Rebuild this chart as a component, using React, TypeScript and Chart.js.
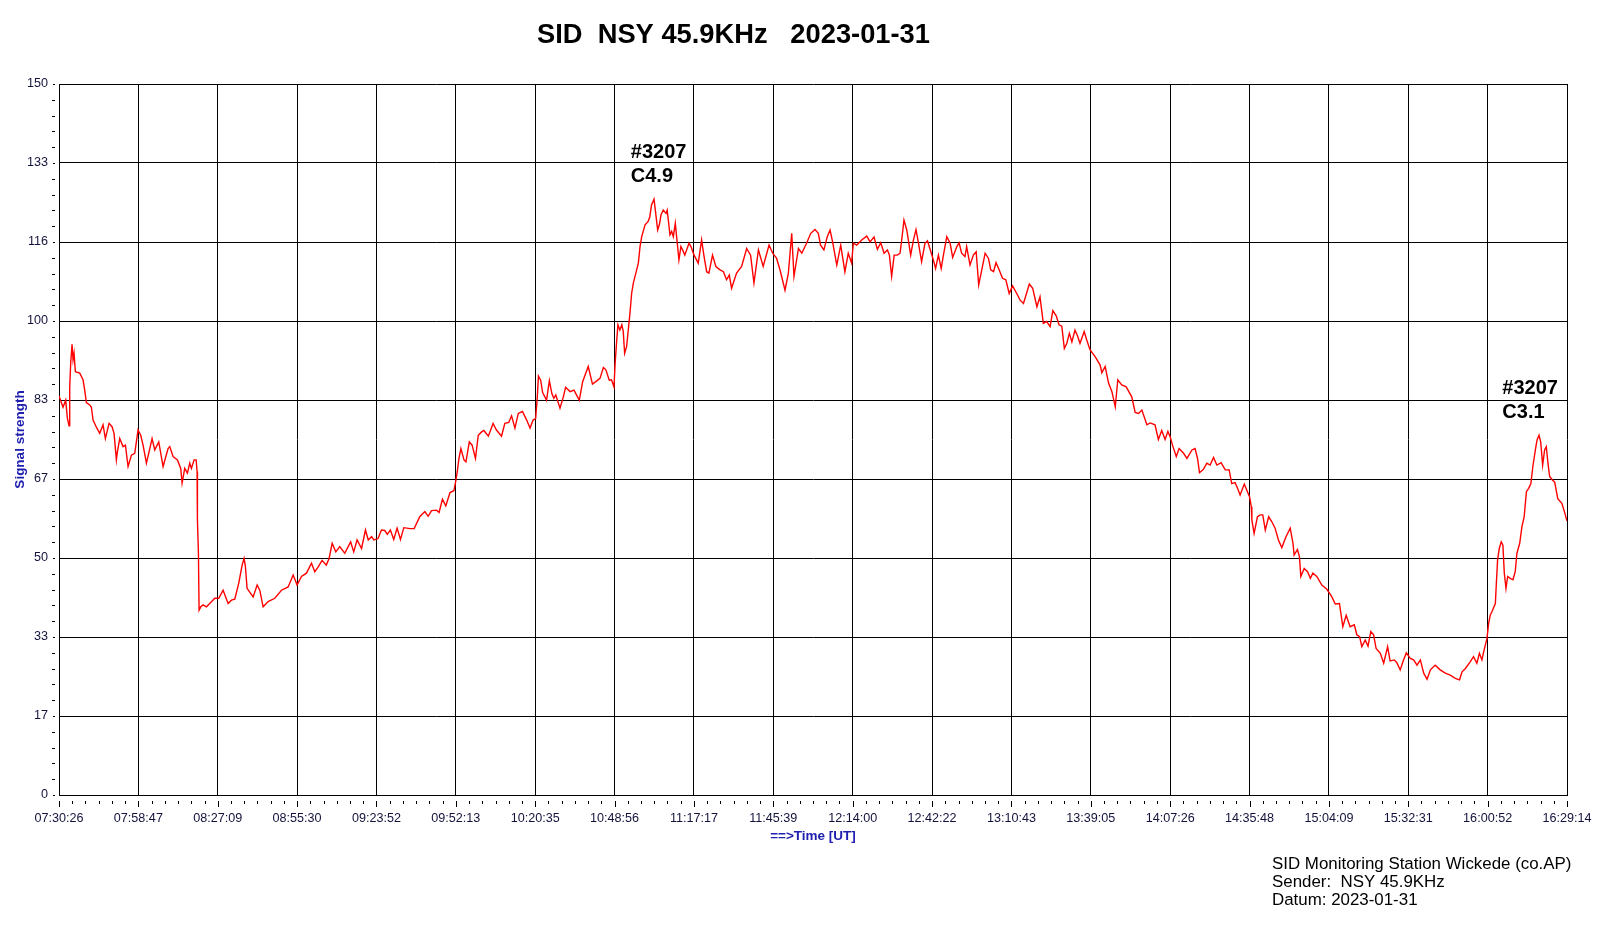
import React, { useEffect, useRef } from "react";
import { Chart, registerables } from "chart.js";

Chart.register(...registerables);

// ---- data (minutes after 07:30:26 UT, signal strength) ----
const TIMES: number[] = [
  0, 1.44, 2.39, 2.99, 3.59, 3.82, 4.18, 4.66, 5.02, 5.37, 5.85, 7.4, 8.59, 9.19, 9.78, 10.97, 11.57, 12.17, 13.36, 14.55,
  15.74, 16.57, 17.88, 18.96, 19.67, 20.5, 20.86, 21.7, 22.89, 23.72, 24.68, 25.87, 27.06, 28.25, 29.2, 30.04, 31.23, 32.18, 33.25, 34.21,
  35.64, 37.19, 38.97, 39.57, 40.76, 42.31, 43.5, 43.98, 44.93, 45.88, 46.72, 47.31, 48.27, 49.0, 49.34, 49.46, 49.82, 50.05, 50.65, 51.48,
  52.68, 53.87, 55.66, 57.08, 58.63, 60.42, 61.61, 62.8, 64.23, 65.43, 66.14, 66.6, 67.2, 69.36, 70.79, 71.74, 72.93, 74.72, 77.1, 79.48,
  81.87, 83.66, 85.08, 86.63, 88.42, 90.21, 91.4,
  92.5, 94.0, 95.5, 96.5, 97.6, 98.9, 100.3, 102.1, 104.2, 105.3, 106.5, 108.1, 109.5, 110.5, 111.7, 112.5, 114.0, 115.2, 116.4, 117.3,
  118.4, 119.6, 120.8, 122.0, 123.2, 125.4, 126.9, 128.9, 130.7, 131.9, 133.1, 134.9, 135.8, 137.0, 138.2, 139.7, 141.1, 141.8, 142.3, 142.9,
  143.6, 144.7, 145.4, 146.6, 147.6, 148.8, 149.8, 151.0, 151.8, 153.4, 155.1, 156.3, 158.1, 159.3, 160.7, 161.7, 162.9, 164.1, 165.6, 167.1,
  168.3, 169.4, 170.3, 170.9, 171.3, 172.1, 172.8, 174.2, 175.2, 176.1, 176.8, 177.5, 179.0, 180.2, 181.0, 182.6, 184.0, 185.9, 187.1,
  189.1, 190.6, 191.8, 193.3, 194.5, 195.4, 196.6, 197.4, 198.3, 198.7, 199.2, 199.7, 200.4, 201.1, 201.6, 202.1, 202.8, 203.4, 204.0, 204.6,
  205.2, 206.1, 207.0, 207.6, 208.2, 209.4, 210.5, 211.1, 211.7, 212.6, 213.2, 213.9, 214.5, 215.1, 215.9, 216.9, 217.3, 218.3, 218.9, 219.5,
  220.2, 220.9, 221.5, 222.2, 222.8, 223.6, 225.1, 225.8, 226.9, 228.4, 229.6, 230.4, 231.4, 232.2, 233.5, 234.7, 236.2, 237.4, 238.5, 239.5,
  240.3, 242.1, 243.9, 245.7, 247.1, 248.3, 249.9, 251.6, 253.7, 255.0, 256.4, 257.6, 259.4, 260.6, 261.8, 262.6, 264.2, 265.4, 267.1, 268.6,
  270.1, 271.3, 272.1, 273.3, 274.5, 275.5, 276.4, 277.9, 279.3, 280.8, 282.0, 283.2, 283.8, 285.0, 286.8, 288.6, 289.8, 291.2, 292.4, 293.6,
  294.8, 296.0, 296.7, 297.5, 298.4, 299.5, 300.5, 301.1, 301.9, 302.9,
  304.3, 305.3, 306.2, 307.1, 308.2, 309.4, 310.3, 311.5, 312.4, 313.2, 314.2, 315.2, 316.0, 317.2, 318.4, 319.3, 320.8, 321.6, 322.5, 323.7,
  324.3, 325.5, 326.7, 327.7, 328.6, 329.7, 330.9, 332.1, 332.9, 333.9, 334.8, 335.9, 337.1, 338.3, 339.5, 340.7, 342.2, 343.4, 344.6, 346.7,
  347.9, 349.4, 350.5, 351.7, 352.9, 354.1, 355.1, 356.3, 357.3, 358.3, 359.2, 360.1, 361.0, 361.9, 363.0, 363.9, 364.8, 366.3, 367.2, 368.4,
  370.2, 372.0, 372.6, 373.8, 375.0, 376.2, 377.4, 378.3, 379.7, 381.3, 383.3, 384.5, 385.7, 386.9, 388.7, 389.9, 391.6, 392.8, 394.0, 395.2,
  396.2, 397.0, 398.0, 399.2, 400.2, 401.8, 403.0, 404.8, 405.9,
  406.8, 407.5, 408.9, 410.1, 411.3, 412.5, 413.7, 415.2, 416.7, 418.1, 419.0, 420.2, 421.1, 422.0, 423.5, 424.4, 425.4, 426.0, 426.2, 427.0,
  428.2, 429.2, 430.1, 431.0, 432.2, 433.3, 434.5, 435.7, 436.9, 438.4, 439.9, 440.9, 441.3, 442.5, 443.2, 443.7, 444.9, 446.1, 447.1, 448.0,
  449.4, 451.2, 453.0, 454.8, 456.0, 457.5, 458.7, 459.9, 461.3, 462.8, 463.7, 464.7, 465.5, 466.7, 467.7, 468.7, 469.7, 470.6, 472.1, 473.3,
  474.7, 475.6, 477.1, 478.0, 479.2,
  480.4, 481.4, 482.8, 484.0, 485.2, 486.4, 487.6, 488.8, 490.0, 491.7, 493.5, 495.3, 497.1, 498.9, 500.4, 501.3, 502.5, 504.2, 505.4, 506.6,
  507.5, 508.4, 509.2, 510.2, 510.8, 511.4, 512.0, 513.2, 513.5, 514.0, 514.6, 515.3, 515.9, 516.4, 517.0, 517.6, 518.5, 519.5, 520.3, 520.9,
  521.9, 522.7, 523.5, 524.3, 525.1, 525.9, 526.6, 527.5, 528.1, 528.8, 529.4, 530.1, 530.8, 531.4, 532.0, 532.6, 533.5, 534.4, 535.5, 537.0,
  538.1, 538.8,
];

const SIGNAL: number[] = [
  84.2, 81.8, 83.3, 79.5, 77.9, 85.8, 91.1, 95.1, 91.8, 93.2, 89.3, 89.0, 87.6, 85.4, 82.8, 82.3, 81.8, 79.1, 77.6, 76.3,
  78.1, 75.2, 78.4, 77.7, 76.3, 70.7, 72.4, 75.2, 73.5, 73.8, 69.3, 71.7, 72.1, 77.0, 75.9, 73.8, 70.0, 72.4, 75.2, 72.8,
  74.5, 69.3, 73.1, 73.5, 71.4, 70.7, 68.9, 65.8, 68.9, 67.9, 70.0, 68.9, 70.7, 70.7, 68.2, 58.0, 51.0, 39.0, 39.7, 40.1,
  39.7, 40.4, 41.5, 41.5, 43.2, 40.4, 41.1, 41.3, 44.7, 48.5, 49.9, 48.2, 43.6, 41.8, 44.3, 43.2, 39.7, 40.8, 41.5, 43.2,
  43.9, 46.4, 44.3, 46.1, 46.8, 48.9, 47.1,
  48.0, 49.5, 48.5, 49.9, 53.1, 51.3, 52.4, 51.0, 53.4, 51.3, 53.8, 52.0, 55.9, 53.8, 54.5, 53.8, 54.1, 55.9, 55.8, 55.0,
  55.9, 53.9, 56.3, 53.9, 56.4, 56.2, 56.2, 58.7, 59.8, 58.8, 60.0, 60.1, 59.6, 62.4, 61.0, 63.8, 64.2, 66.4, 68.2, 71.0,
  73.1, 70.7, 70.3, 74.5, 73.8, 71.0, 75.9, 76.6, 76.9, 75.7, 78.4, 77.0, 75.7, 78.4, 78.6, 80.0, 77.4, 80.5, 80.9, 79.1,
  77.4, 79.1, 79.4, 84.0, 88.4, 87.5, 84.9, 83.3, 87.4, 84.7, 83.7, 84.4, 81.6, 84.0, 86.0, 85.1, 85.4, 83.3, 87.2,
  90.4, 86.7, 87.2, 87.9, 90.2, 89.7, 87.5, 87.6, 86.1, 91.1, 95.3, 99.2, 98.1, 99.2, 97.8, 93.2, 94.6, 98.1, 101.6, 105.8,
  108.0, 110.1, 112.2, 115.7, 117.8, 120.3, 121.0, 122.0, 124.5, 125.7, 122.7, 119.2, 120.3, 122.4, 123.4, 122.7, 123.4, 118.2, 118.9, 117.8,
  120.6, 116.4, 112.9, 115.7, 115.0, 113.9, 116.4, 115.7, 113.9, 112.2, 117.1, 113.9, 110.4, 110.1, 113.9, 111.5, 110.8, 110.4, 108.7, 109.7,
  106.9, 110.1, 111.5, 115.3, 113.9, 108.0, 115.0, 111.5, 116.0, 114.3, 113.2, 110.8, 106.5, 110.1, 118.5, 109.4, 115.3, 114.3, 116.4, 118.5,
  119.3, 118.5, 116.0, 115.0, 117.8, 119.2, 116.7, 111.8, 116.0, 110.4, 114.3, 112.2, 116.4, 116.0, 117.1, 117.9, 116.7, 117.7, 115.1, 116.5,
  114.3, 115.0, 113.9, 109.4, 113.9, 113.9, 114.3, 117.1, 121.3, 119.2,
  113.9, 117.1, 119.3, 116.4, 112.5, 116.4, 116.9, 114.6, 112.9, 111.1, 113.9, 111.1, 113.9, 117.8, 116.4, 113.4, 115.7, 116.5, 114.3, 113.6,
  115.7, 111.8, 113.9, 114.6, 107.6, 110.8, 114.3, 113.2, 110.8, 110.4, 112.3, 110.8, 109.0, 108.7, 105.8, 107.4, 105.8, 104.4, 103.7, 107.8,
  106.9, 103.0, 105.1, 99.5, 99.9, 98.8, 102.2, 101.1, 99.2, 98.9, 94.2, 95.3, 97.4, 95.6, 98.1, 96.9, 95.3, 97.8, 96.0, 93.9,
  92.5, 90.7, 89.1, 90.4, 86.9, 85.1, 81.9, 87.6, 86.5, 86.1, 84.0, 80.7, 80.5, 81.2, 78.1, 78.5, 78.1, 75.0, 76.9, 75.0,
  76.7, 75.6, 73.5, 71.4, 73.1, 72.1, 71.0, 72.8, 73.1,
  71.0, 68.0, 68.7, 70.0, 69.6, 71.2, 69.6, 70.1, 68.6, 68.6, 65.7, 65.9, 64.7, 63.3, 65.6, 64.3, 62.9, 60.8, 58.0, 55.2,
  58.7, 59.1, 59.1, 55.9, 58.7, 57.7, 56.3, 53.8, 52.2, 54.5, 56.3, 53.1, 50.6, 51.8, 50.3, 46.1, 47.8, 47.1, 45.7, 46.8,
  46.1, 44.3, 43.4, 41.8, 40.3, 40.4, 35.5, 37.9, 35.5, 35.9, 33.8, 33.4, 31.3, 32.7, 31.4, 34.5, 33.8, 30.9, 29.9, 27.8,
  31.3, 28.3, 28.5, 27.9, 26.4,
  28.5, 30.0, 28.8, 28.5, 27.4, 28.5, 25.7, 24.4, 26.4, 27.4, 26.4, 25.7, 25.3, 24.6, 24.3, 26.0, 26.7, 28.1, 29.2, 27.8,
  29.9, 28.5, 30.6, 33.0, 36.2, 38.0, 38.7, 40.4, 44.0, 49.6, 52.0, 53.4, 52.7, 46.8, 43.6, 46.1, 45.7, 45.4, 47.1, 51.0,
  53.1, 56.6, 58.7, 64.0, 64.7, 65.7, 69.3, 72.8, 74.9, 75.9, 74.5, 69.6, 72.8, 73.5, 70.0, 67.2, 66.5, 66.0, 62.5, 61.5,
  59.3, 57.8,
];

const X_TICK_LABELS: string[] = [
  "07:30:26", "07:58:47", "08:27:09", "08:55:30", "09:23:52", "09:52:13", "10:20:35", "10:48:56", "11:17:17", "11:45:39",
  "12:14:00", "12:42:22", "13:10:43", "13:39:05", "14:07:26", "14:35:48", "15:04:09", "15:32:31", "16:00:52", "16:29:14",
];
const Y_TICK_LABELS: string[] = ["0", "17", "33", "50", "67", "83", "100", "116", "133", "150"];

const X_SPAN_MIN = 538.8; // 07:30:26 .. 16:29:14
const Y_MAX = 150;
const X_MINOR = 6;
const Y_MINOR = 5;

const TITLE = "SID  NSY 45.9KHz   2023-01-31";
const Y_TITLE = "Signal strength";
const X_TITLE = "==>Time [UT]";
const FOOTER = ["SID Monitoring Station Wickede (co.AP)", "Sender:  NSY 45.9KHz", "Datum: 2023-01-31"];
const NOTES = [
  { t: 204.3, v: 134.4, lines: ["#3207", "C4.9"] },
  { t: 515.7, v: 84.7, lines: ["#3207", "C3.1"] },
];

const FONT = 'Arial, "Liberation Sans", sans-serif';
const TICK_COLOR = "#12123c";
const AXIS_TITLE_COLOR = "#2020b0";

const decorPlugin = {
  id: "decor",
  afterDraw(chart: any) {
    const { ctx, chartArea, scales } = chart;
    const xs = scales.x;
    const ys = scales.y;
    const { left, right, top, bottom } = chartArea;
    ctx.save();
    ctx.strokeStyle = "#000";
    ctx.lineWidth = 1;
    // y ticks (major + minor)
    const nY = (Y_TICK_LABELS.length - 1) * Y_MINOR;
    for (let i = 0; i <= nY; i++) {
      const py = Math.round(ys.getPixelForValue((i * Y_MAX) / nY)) + 0.5;
      const major = i % Y_MINOR === 0;
      ctx.beginPath();
      ctx.moveTo(left - (major ? 6 : 7), py);
      ctx.lineTo(left - 4, py);
      ctx.stroke();
    }
    // x ticks (major + minor)
    const nX = (X_TICK_LABELS.length - 1) * X_MINOR;
    for (let i = 0; i <= nX; i++) {
      const px = Math.round(xs.getPixelForValue((i * X_SPAN_MIN) / nX)) + 0.5;
      const major = i % X_MINOR === 0;
      ctx.beginPath();
      ctx.moveTo(px, bottom + 6);
      ctx.lineTo(px, bottom + (major ? 12 : 9));
      ctx.stroke();
    }
    // title
    ctx.fillStyle = "#000";
    ctx.font = `bold 27.3px ${FONT}`;
    ctx.textAlign = "left";
    ctx.textBaseline = "alphabetic";
    ctx.fillText(TITLE, 537, 43);
    // flare notes
    ctx.font = `bold 20px ${FONT}`;
    NOTES.forEach((n) => {
      const px = xs.getPixelForValue(n.t);
      const py = ys.getPixelForValue(n.v);
      n.lines.forEach((l, k) => ctx.fillText(l, px, py + k * 24.5));
    });
    // footer
    ctx.font = `16.9px ${FONT}`;
    FOOTER.forEach((l, k) => ctx.fillText(l, 1272, 869 + k * 18));
    // axis titles
    ctx.fillStyle = AXIS_TITLE_COLOR;
    ctx.font = `bold 13.5px ${FONT}`;
    ctx.textAlign = "center";
    ctx.textBaseline = "middle";
    ctx.fillText(X_TITLE, (left + right) / 2, bottom + 41);
    ctx.translate(20, (top + bottom) / 2);
    ctx.rotate(-Math.PI / 2);
    ctx.fillText(Y_TITLE, 0, 0);
    ctx.restore();
  },
};

export default function App() {
  const ref = useRef<HTMLCanvasElement | null>(null);

  useEffect(() => {
    if (!ref.current) return;
    const chart = new Chart(ref.current, {
      type: "line",
      data: {
        datasets: [
          {
            data: TIMES.map((t, i) => ({ x: t, y: SIGNAL[i] })),
            borderColor: "#ff0000",
            borderWidth: 1.4,
            pointRadius: 0,
            tension: 0,
            fill: false,
          },
        ],
      },
      options: {
        animation: false,
        responsive: false,
        events: [],
        layout: { padding: { top: 84, right: 31, left: 0, bottom: 0 } },
        plugins: {
          legend: { display: false },
          tooltip: { enabled: false },
          title: { display: false },
        },
        scales: {
          x: {
            type: "linear",
            min: 0,
            max: X_SPAN_MIN,
            afterBuildTicks: (s: any) => {
              s.ticks = X_TICK_LABELS.map((_, i) => ({ value: (i * X_SPAN_MIN) / (X_TICK_LABELS.length - 1) }));
            },
            afterFit: (s: any) => {
              s.height = 135;
              s.paddingLeft = 0;
              s.paddingRight = 0;
            },
            ticks: {
              autoSkip: false,
              maxRotation: 0,
              minRotation: 0,
              padding: 16,
              color: TICK_COLOR,
              font: { family: FONT, size: 12.6 },
              callback: (_v: any, i: number) => X_TICK_LABELS[i],
            },
            grid: { color: "#000", lineWidth: 1, drawTicks: false },
            border: { display: true, color: "#000", width: 1 },
          },
          y: {
            type: "linear",
            min: 0,
            max: Y_MAX,
            afterBuildTicks: (s: any) => {
              s.ticks = Y_TICK_LABELS.map((_, i) => ({ value: (i * Y_MAX) / (Y_TICK_LABELS.length - 1) }));
            },
            afterFit: (s: any) => {
              s.width = 59;
              s.paddingTop = 0;
              s.paddingBottom = 0;
            },
            ticks: {
              autoSkip: false,
              padding: 11,
              color: TICK_COLOR,
              font: { family: FONT, size: 12.6 },
              callback: (_v: any, i: number) => Y_TICK_LABELS[i],
            },
            grid: { color: "#000", lineWidth: 1, drawTicks: false },
            border: { display: true, color: "#000", width: 1 },
          },
        },
      },
      plugins: [decorPlugin],
    });
    return () => chart.destroy();
  }, []);

  return (
    <div style={{ position: "absolute", left: 0, top: 0, width: 1598, height: 930, background: "#fff" }}>
      <canvas ref={ref} width={1598} height={930} style={{ display: "block", width: 1598, height: 930 }} />
    </div>
  );
}
